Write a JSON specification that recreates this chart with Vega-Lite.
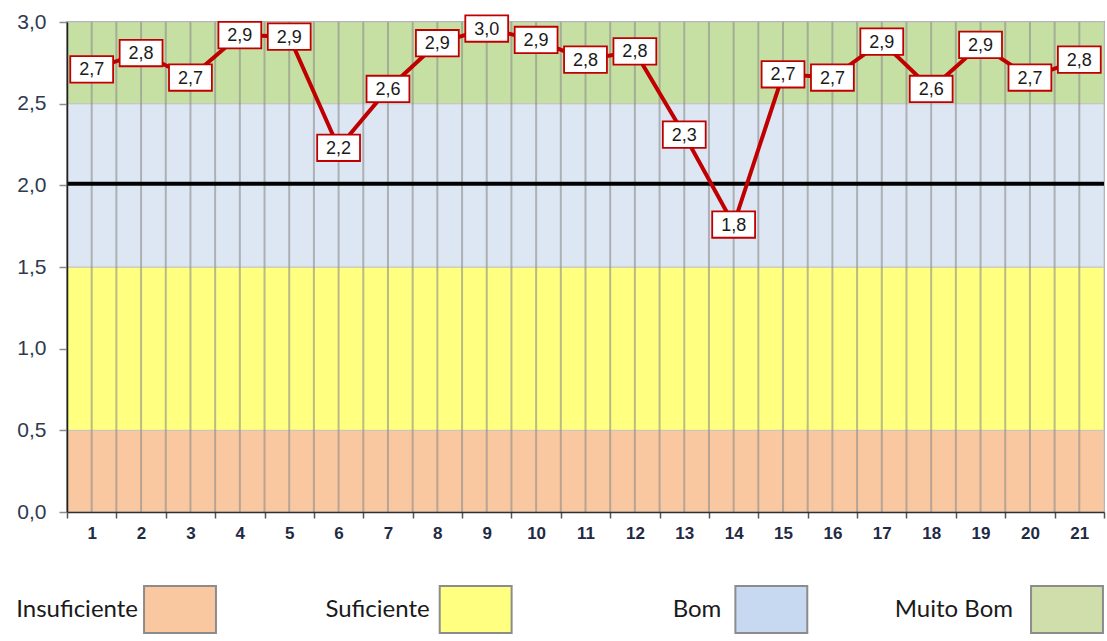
{
  "$schema": "https://vega.github.io/schema/vega-lite/v6.json",
  "padding": {"left": 15, "top": 10, "right": 0, "bottom": 0},
  "spacing": 40,
  "config": {
    "locale": {"number": {"decimal": ",", "thousands": ".", "grouping": [3], "currency": ["", " €"]}},
    "view": {"stroke": null}
  },
  "datasets": {
    "scores": [
      {"n": 1, "v": 2.71}, {"n": 2, "v": 2.81}, {"n": 3, "v": 2.66}, {"n": 4, "v": 2.92},
      {"n": 5, "v": 2.91}, {"n": 6, "v": 2.23}, {"n": 7, "v": 2.59}, {"n": 8, "v": 2.87},
      {"n": 9, "v": 2.96}, {"n": 10, "v": 2.89}, {"n": 11, "v": 2.77}, {"n": 12, "v": 2.82},
      {"n": 13, "v": 2.31}, {"n": 14, "v": 1.76}, {"n": 15, "v": 2.68}, {"n": 16, "v": 2.66},
      {"n": 17, "v": 2.88}, {"n": 18, "v": 2.59}, {"n": 19, "v": 2.86}, {"n": 20, "v": 2.66},
      {"n": 21, "v": 2.77}
    ],
    "bands": [
      {"nivel": "Insuficiente", "lo": 0, "hi": 0.5},
      {"nivel": "Suficiente", "lo": 0.5, "hi": 1.5},
      {"nivel": "Bom", "lo": 1.5, "hi": 2.5},
      {"nivel": "Muito Bom", "lo": 2.5, "hi": 3.0}
    ],
    "meta": [{"meta": 2.01}]
  },
  "vconcat": [
    {
      "width": 1037,
      "height": 490,
      "view": {"stroke": "#A6A6A6", "strokeWidth": 2},
      "layer": [
        {
          "data": {"name": "bands"},
          "mark": {"type": "rect", "stroke": "#C4C4C4", "strokeWidth": 1},
          "encoding": {
            "y": {
              "field": "lo", "type": "quantitative",
              "scale": {"domain": [0, 3], "nice": false, "zero": true},
              "axis": {
                "values": [0, 0.5, 1, 1.5, 2, 2.5, 3], "format": ".1f", "title": null,
                "labelFont": "Liberation Sans", "labelFontSize": 21, "labelColor": "#2F3A4F",
                "tickSize": 8, "tickColor": "#8C8C8C", "tickWidth": 1.5, "labelPadding": 13,
                "domainColor": "#202020", "domainWidth": 1.5, "grid": false, "zindex": 1
              }
            },
            "y2": {"field": "hi"},
            "color": {
              "field": "nivel", "type": "nominal",
              "scale": {"domain": ["Insuficiente", "Suficiente", "Bom", "Muito Bom"],
                        "range": ["#F9C8A0", "#FFFF80", "#DDE7F3", "#C6E0A4"]},
              "legend": null
            }
          }
        },
        {
          "data": {"name": "scores"},
          "mark": {"type": "rule", "color": "#8C8C8C", "strokeWidth": 2, "opacity": 0.6},
          "encoding": {
            "x": {
              "field": "n", "type": "ordinal", "bandPosition": 0,
              "scale": {"type": "band", "paddingInner": 0, "paddingOuter": 0},
              "axis": {
                "title": null, "labelAngle": 0, "tickBand": "extent", "grid": false,
                "labelFont": "Liberation Sans", "labelFontSize": 17, "labelFontWeight": "bold",
                "labelColor": "#1F2A44", "tickSize": 6, "tickColor": "#555555", "tickWidth": 1.5,
                "labelPadding": 7, "domainColor": "#303030", "domainWidth": 1.5, "zindex": 1
              }
            }
          }
        },
        {
          "data": {"name": "scores"},
          "mark": {"type": "rule", "color": "#8C8C8C", "strokeWidth": 2, "opacity": 0.6},
          "encoding": {
            "x": {"field": "n", "type": "ordinal", "bandPosition": 0.5}
          }
        },
        {
          "data": {"name": "meta"},
          "mark": {"type": "rule", "color": "#000000", "strokeWidth": 4},
          "encoding": {
            "y": {"field": "meta", "type": "quantitative"}
          }
        },
        {
          "data": {"name": "scores"},
          "mark": {"type": "line", "color": "#C00000", "strokeWidth": 4},
          "encoding": {
            "x": {"field": "n", "type": "ordinal"},
            "y": {"field": "v", "type": "quantitative"}
          }
        },
        {
          "data": {"name": "scores"},
          "mark": {"type": "point", "shape": "M-1.62,-1H1.62V1H-1.62Z", "size": 700,
                   "filled": true, "fill": "#FFFFFF", "stroke": "#C00000", "strokeWidth": 1.8, "opacity": 1},
          "encoding": {
            "x": {"field": "n", "type": "ordinal"},
            "y": {"field": "v", "type": "quantitative"}
          }
        },
        {
          "data": {"name": "scores"},
          "mark": {"type": "text", "font": "Liberation Sans", "fontSize": 18, "color": "#1A1A1A",
                   "baseline": "middle", "dy": 1},
          "encoding": {
            "x": {"field": "n", "type": "ordinal"},
            "y": {"field": "v", "type": "quantitative"},
            "text": {"field": "v", "type": "quantitative", "format": ".1f"}
          }
        }
      ]
    },
    {
      "width": 1037,
      "height": 47,
      "data": {"name": "bands"},
      "resolve": {"scale": {"x": "independent"}},
      "layer": [
        {
          "mark": {"type": "point", "shape": "M-1.53,-1H1.53V1H-1.53Z", "size": 2209,
                   "filled": true, "stroke": "#8C8C8C", "strokeWidth": 2, "opacity": 1},
          "encoding": {
            "x": {
              "field": "nivel", "type": "nominal",
              "scale": {"type": "point", "padding": 0, "domain": ["Insuficiente", "Suficiente", "Bom", "Muito Bom"], "range": [113, 1000]},
              "axis": null
            },
            "fill": {
              "field": "nivel", "type": "nominal",
              "scale": {"domain": ["Insuficiente", "Suficiente", "Bom", "Muito Bom"],
                        "range": ["#FAC8A0", "#FFFF80", "#C6D9F0", "#CFDEAA"]},
              "legend": null
            }
          }
        },
        {
          "mark": {"type": "text", "align": "right", "baseline": "middle",
                   "font": "Lato", "fontSize": 24, "color": "#1A1A1A"},
          "encoding": {
            "x": {
              "field": "nivel", "type": "nominal",
              "scale": {"type": "point", "padding": 0, "domain": ["Insuficiente", "Suficiente", "Bom", "Muito Bom"], "range": [71, 946]},
              "axis": null
            },
            "text": {"field": "nivel", "type": "nominal"}
          }
        }
      ]
    }
  ]
}
